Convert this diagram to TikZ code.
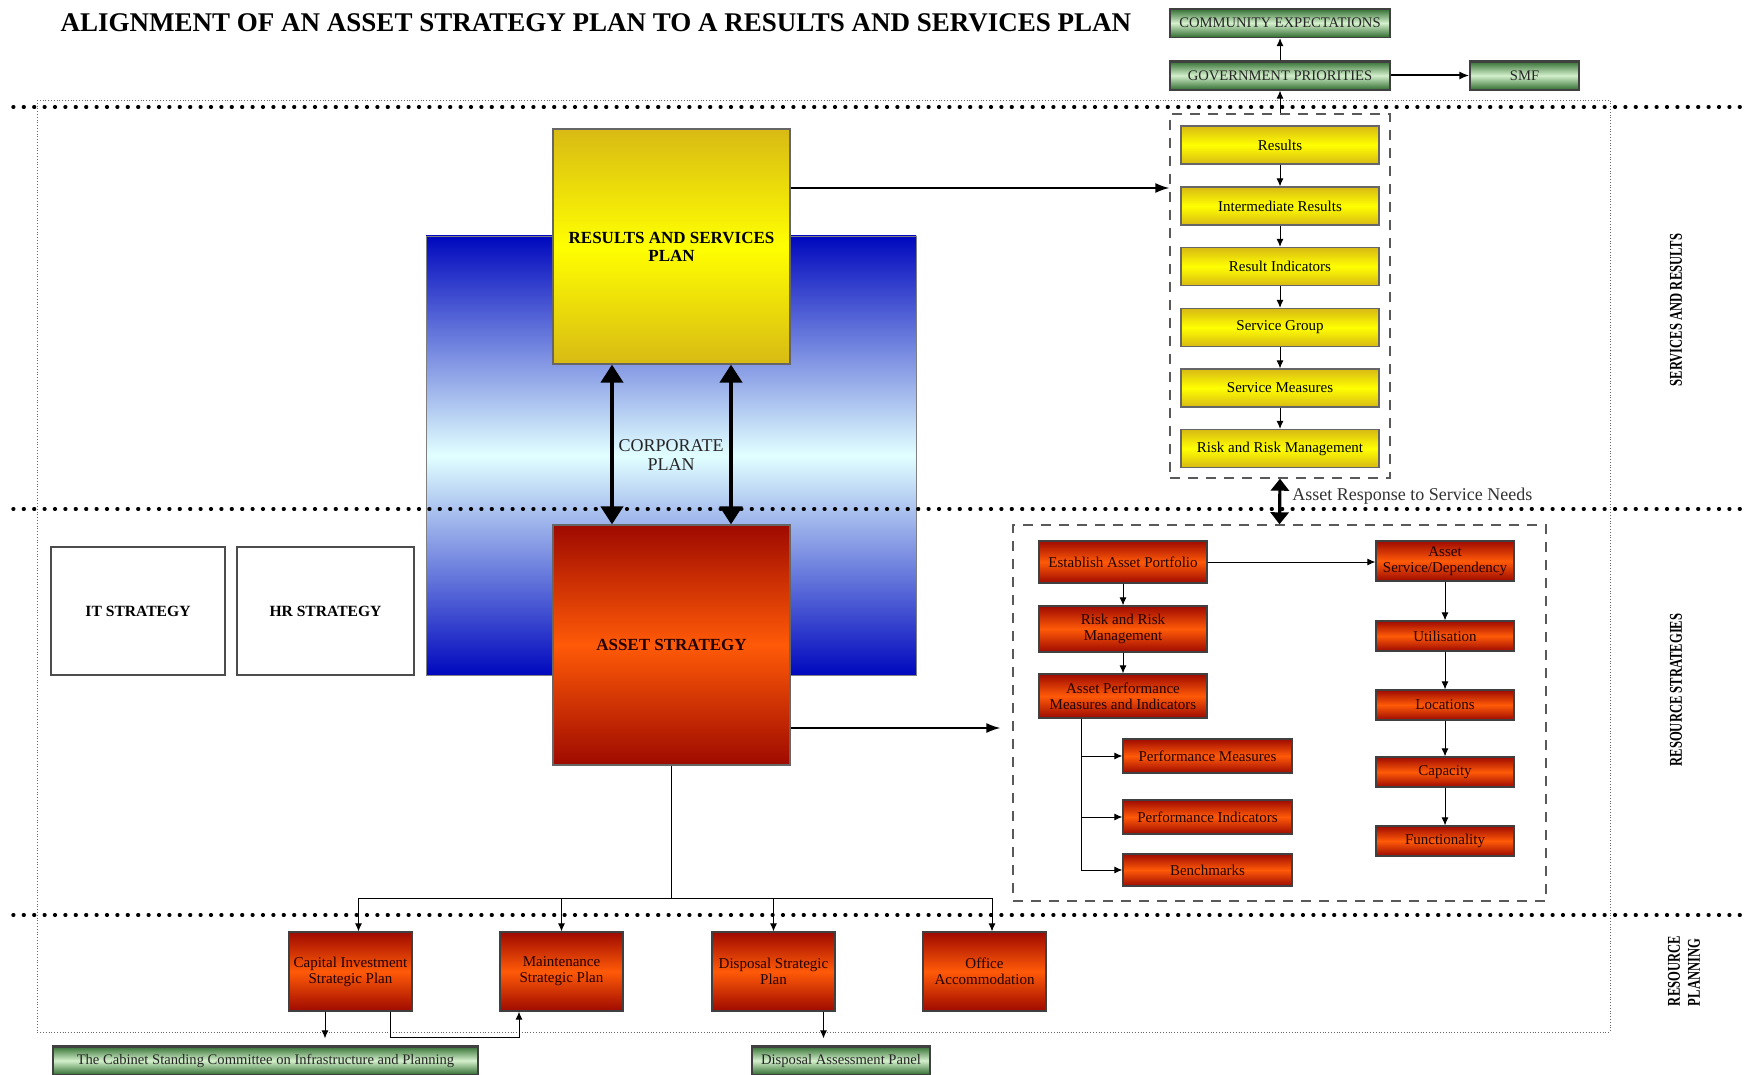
\documentclass[tikz,border=0pt]{standalone}
\usepackage{fontspec}
\setmainfont{Liberation Serif}
\newfontfamily\condserif[FakeStretch=0.7]{Liberation Serif}
\usetikzlibrary{arrows.meta,calc}
\definecolor{ydark}{HTML}{D8BA14}
\definecolor{ylight}{HTML}{FFFF00}
\definecolor{odark}{HTML}{9E0A00}
\definecolor{olight}{HTML}{FF5A08}
\definecolor{gdark}{HTML}{2E6B2E}
\definecolor{glight}{HTML}{D4F0CC}
\definecolor{bdark}{HTML}{0008BE}
\definecolor{blight}{HTML}{E2FFFF}
\definecolor{otext}{HTML}{220000}
\begin{document}
\begin{tikzpicture}[x=0.5pt,y=-0.5pt,
  every node/.style={inner sep=1pt, align=center},
  ybox/.style={draw=black!60, line width=0.6pt, top color=ydark, bottom color=ydark, middle color=ylight,
    minimum width=99pt, minimum height=19pt, font=\fontsize{7.5}{8.5}\selectfont},
  obox/.style={draw=black!75, line width=0.6pt, top color=odark, bottom color=odark, middle color=olight,
    text=otext, font=\fontsize{7.5}{8}\selectfont},
  gbox/.style={draw=black!75, line width=0.6pt, top color=gdark, bottom color=gdark, middle color=glight,
    text=black!85, font=\fontsize{7.3}{8}\selectfont, minimum height=14.5pt,
    path picture={\draw[line width=2pt, black!75] (path picture bounding box.north west) -- (path picture bounding box.north east);}},
  wbox/.style={draw=black!70, line width=0.6pt, fill=white, minimum width=87pt, minimum height=64pt,
    font=\bfseries\fontsize{7.8}{9}\selectfont},
  dbox/.style={draw=black!65, line width=0.7pt, dash pattern=on 5pt off 4pt},
  arr/.style={-{Latex[length=4pt,width=3.5pt]}, line width=0.5pt},
  barr/.style={-{Latex[length=7pt,width=5pt]}, line width=0.7pt},
  dbl/.style={{Triangle[length=9pt,width=11pt]}-{Triangle[length=9pt,width=11pt]}, line width=2pt},
  thickdot/.style={line width=1.7pt, line cap=round, dash pattern=on 0.4pt off 4.8pt},
  sidelab/.style={font=\condserif\bfseries\fontsize{9}{10}\selectfont, rotate=90}
]
\useasboundingbox (0,0) rectangle (1744,1075);
\fill[white] (0,0) rectangle (1744,1075);

% outer fine dotted frame
\draw[black!60, line width=0.4pt, densely dotted] (37,100) rectangle (1610,1032);

% title
\node[font=\bfseries\fontsize{13.5}{15}\selectfont] (title) at (596,22.5) {ALIGNMENT OF AN ASSET STRATEGY PLAN TO A RESULTS AND SERVICES PLAN};

% corporate plan background
\node[draw=black!50, line width=0.4pt, top color=bdark, bottom color=bdark, middle color=blight,
  minimum width=245pt, minimum height=219.5pt, inner sep=0pt,
  font=\fontsize{9}{9.5}\selectfont, text=black!85] (corp) at (671,455.5) {CORPORATE\\PLAN};

% thick dotted separators
\draw[thickdot] (13,107) -- (1744,107);
\draw[thickdot] (13,509) -- (1744,509);
\draw[thickdot] (13,915) -- (1744,915);

% side labels
\node[sidelab] (sl1) at (1676,310) {SERVICES AND RESULTS};
\node[sidelab] (sl2) at (1676,690) {RESOURCE STRATEGIES};
\node[sidelab, align=left] (sl3) at (1684,971) {RESOURCE\\PLANNING};

% green boxes top
\node[gbox, minimum width=110pt] (ce) at (1280,23) {COMMUNITY EXPECTATIONS};
\node[gbox, minimum width=110pt] (gp) at (1280,75.5) {GOVERNMENT PRIORITIES};
\node[gbox, minimum width=54.5pt] (smf) at (1524.5,75.5) {SMF};
\draw[arr] (gp) -- (ce);
\draw[-{Latex[length=5pt,width=4pt]}, line width=1pt] (gp) -- (smf);

% main boxes
\node[draw=black!60, line width=0.6pt, top color=ydark, bottom color=ydark, middle color=ylight,
  minimum width=118.5pt, minimum height=117.5pt, font=\bfseries\fontsize{8.5}{9}\selectfont] (rsp) at (671.5,246.5) {RESULTS AND SERVICES\\PLAN};
\node[draw=black!60, line width=0.6pt, top color=odark, bottom color=odark, middle color=olight,
  minimum width=118.5pt, minimum height=120pt, text=otext, font=\bfseries\fontsize{8.5}{9}\selectfont] (as) at (671.5,645) {ASSET STRATEGY};
\draw[dbl] ([xshift=-29.75pt]rsp.south) -- ([xshift=-29.75pt]as.north);
\draw[dbl] ([xshift=29.75pt]rsp.south) -- ([xshift=29.75pt]as.north);

\node[wbox] (it) at (138,611) {IT STRATEGY};
\node[wbox, minimum width=88.5pt] (hr) at (325.5,611) {HR STRATEGY};

% services column
\node[dbox, minimum width=110pt, minimum height=182pt] (ydash) at (1280,296) {};
\node[ybox] (res) at (1280,145) {Results};
\node[ybox] (ir) at (1280,206) {Intermediate Results};
\node[ybox] (ri) at (1280,266.5) {Result Indicators};
\node[ybox] (sg) at (1280,327.5) {Service Group};
\node[ybox] (sm) at (1280,388) {Service Measures};
\node[ybox] (rrm1) at (1280,448.5) {Risk and Risk Management};
\draw[arr] (res) -- (ir);
\draw[arr] (ir) -- (ri);
\draw[arr] (ri) -- (sg);
\draw[arr] (sg) -- (sm);
\draw[arr] (sm) -- (rrm1);
\draw[arr] (ydash.north) -- (gp.south);
\draw[barr] ([yshift=29.25pt]rsp.east) -- ([yshift=29.25pt]rsp.east -| ydash.west);

% resource strategies
\node[dbox, minimum width=266.5pt, minimum height=188pt] (odash) at (1279.5,713) {};
\draw[{Triangle[length=6pt,width=9pt]}-{Triangle[length=6pt,width=9pt]}, line width=1.6pt] (ydash.south) -- (odash.north);
\node[anchor=west, font=\fontsize{9}{10}\selectfont, text=black!80] (arsn) at (1290,496) {Asset Response to Service Needs};
\draw[barr, shorten >=6pt] ([yshift=-41.5pt]as.east) -- ([yshift=-41.5pt]as.east -| odash.west);

\node[obox, minimum width=84pt, minimum height=21pt] (eap) at (1123,562) {Establish Asset Portfolio};
\node[obox, minimum width=84pt, minimum height=23pt] (rrm2) at (1123,629) {Risk and Risk\\Management};
\node[obox, minimum width=84pt, minimum height=22pt] (apm) at (1123,696) {Asset Performance\\Measures and Indicators};
\node[obox, minimum width=84.5pt, minimum height=17pt] (pm) at (1207.5,756) {Performance Measures};
\node[obox, minimum width=84.5pt, minimum height=17pt] (pi) at (1207.5,817) {Performance Indicators};
\node[obox, minimum width=84.5pt, minimum height=16pt] (bm) at (1207.5,870) {Benchmarks};
\node[obox, minimum width=69pt, minimum height=20pt] (asd) at (1445,561) {Asset\\Service/Dependency};
\node[obox, minimum width=69pt, minimum height=15pt] (uti) at (1445,636) {Utilisation};
\node[obox, minimum width=69pt, minimum height=15pt] (loc) at (1445,705) {Locations};
\node[obox, minimum width=69pt, minimum height=15pt] (cap) at (1445,772) {Capacity};
\node[obox, minimum width=69pt, minimum height=15pt] (fun) at (1445,841) {Functionality};
\draw[arr] (eap) -- (rrm2);
\draw[arr] (rrm2) -- (apm);
\draw[arr] (eap.east) -- (eap.east -| asd.west);
\draw[arr] (asd) -- (uti);
\draw[arr] (uti) -- (loc);
\draw[arr] (loc) -- (cap);
\draw[arr] (cap) -- (fun);
\draw[arr] ([xshift=-21pt]apm.south) |- (pm.west);
\draw[arr] ([xshift=-21pt]apm.south) |- (pi.west);
\draw[arr] ([xshift=-21pt]apm.south) |- (bm.west);

% resource planning
\node[obox, minimum width=61.5pt, minimum height=39.5pt] (cis) at (350.5,971.5) {Capital Investment\\Strategic Plan};
\node[obox, minimum width=61.5pt, minimum height=39.5pt] (msp) at (561.5,971.5) {Maintenance\\Strategic Plan};
\node[obox, minimum width=61.5pt, minimum height=39.5pt] (dsp) at (773.5,971.5) {Disposal Strategic\\Plan};
\node[obox, minimum width=61.5pt, minimum height=39.5pt] (oa) at (984.5,971.5) {Office\\Accommodation};
\draw (as.south) -- ++(0,133) coordinate (busc);
\draw[arr] (busc) -| ([xshift=4pt]cis.north);
\draw[arr] (busc) -| (msp.north);
\draw[arr] (busc) -| (dsp.north);
\draw[arr] (busc) -| ([xshift=3.75pt]oa.north);

\node[gbox, minimum width=212.5pt] (cab) at (265.5,1060.5) {The Cabinet Standing Committee on Infrastructure and Planning};
\node[gbox, minimum width=89pt] (dap) at (841,1060.5) {Disposal Assessment Panel};
\draw[arr, shorten >=3.5pt] ([xshift=-12.75pt]cis.south) -- ([xshift=-12.75pt]cis.south |- cab.north);
\draw[arr] ([xshift=19.75pt]cis.south) -- ++(0,26) -| ([xshift=-21.25pt]msp.south);
\draw[arr, shorten >=3.5pt] ([xshift=25pt]dsp.south) -- ([xshift=25pt]dsp.south |- dap.north);
\end{tikzpicture}
\end{document}
